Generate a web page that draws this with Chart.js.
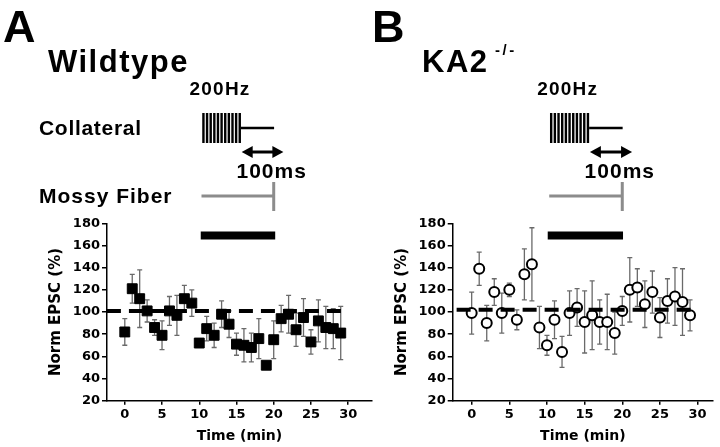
<!DOCTYPE html>
<html>
<head>
<meta charset="utf-8">
<script src="https://cdn.jsdelivr.net/npm/chart.js@4.4.1/dist/chart.umd.min.js"></script>
<style>
  html, body { margin: 0; padding: 0; background: #fff; }
  #wrap { position: relative; width: 720px; height: 447px; overflow: hidden; }
  #cA { position: absolute; left: 0; top: 0; }
  #cB { position: absolute; left: 360px; top: 0; }
</style>
</head>
<body>
<div id="wrap">
  <canvas id="cA" width="380" height="447"></canvas>
  <canvas id="cB" width="360" height="447"></canvas>
</div>
<script>
// time points (min)
const minutes = [0, 1, 2, 3, 4, 5, 6, 7, 8, 9, 10, 11, 12, 13, 14, 15, 16, 17, 18, 19, 20, 21, 22, 23, 24, 25, 26, 27, 28, 29];

// Wildtype, norm EPSC (%) and error
const wtMean = [82, 121, 112, 101, 86, 79, 101, 97, 112, 108, 72, 85, 79, 98, 89, 71, 70, 68, 76, 52, 75, 94, 98, 84, 95, 73, 92, 86, 85, 81];
const wtErr  = [12, 13, 26, 10, 7, 13, 13, 18, 12, 12, 3, 11, 11, 12, 12, 10, 15, 13, 18, 3, 17, 12, 17, 15, 17, 11, 19, 19, 18, 24];

// KA2 -/-, norm EPSC (%) and error
const koMean = [99, 139, 90, 118, 99, 120, 93, 134, 143, 86, 70, 93, 64, 99, 104, 91, 97, 91, 91, 81, 101, 120, 122, 107, 118, 95, 110, 114, 109, 97];
const koErr  = [19, 15, 16, 12, 18, 6, 9, 23, 33, 19, 9, 17, 14, 20, 17, 28, 31, 20, 25, 19, 13, 29, 17, 21, 19, 18, 20, 26, 30, 14];

// dashed baseline and stimulation bar
const wtBaseX = [-2.4, 29.2];
const wtBaseY = [101, 101];
const koBaseX = [-2.0, 29.3];
const koBaseY = [102, 102];
const wtStimX = [10.2, 20.2];
const koStimX = [10.1, 20.1];
const stimY = [169, 169];

const xTicks = [0, 5, 10, 15, 20, 25, 30];
const yTicks = [20, 40, 60, 80, 100, 120, 140, 160, 180];

const toXY = (xs, ys) => xs.map((v, i) => ({ x: v, y: ys[i] }));

// error bars, drawn under the markers
const errorBars = {
  id: 'errorBars',
  beforeDatasetsDraw(chart, args, opts) {
    const { ctx, scales: { x, y } } = chart;
    ctx.save();
    ctx.strokeStyle = '#6a6a6a';
    ctx.lineWidth = 1.3;
    opts.mean.forEach((m, i) => {
      const px = x.getPixelForValue(minutes[i]);
      const top = y.getPixelForValue(m + opts.err[i]);
      const bot = y.getPixelForValue(m - opts.err[i]);
      ctx.beginPath();
      ctx.moveTo(px, top); ctx.lineTo(px, bot);
      ctx.moveTo(px - 2.5, top); ctx.lineTo(px + 2.5, top);
      ctx.moveTo(px - 2.5, bot); ctx.lineTo(px + 2.5, bot);
      ctx.stroke();
    });
    ctx.restore();
  }
};

function label(ctx, str, x, y, size, spacing) {
  ctx.font = 'bold ' + size + 'px "Liberation Sans", Arial, sans-serif';
  ctx.letterSpacing = spacing + 'px';
  ctx.fillText(str, x, y);
}

function arrowHead(ctx, tipX, y, dir) {
  ctx.beginPath();
  ctx.moveTo(tipX, y);
  ctx.lineTo(tipX - dir * 11, y - 6);
  ctx.lineTo(tipX - dir * 11, y + 6);
  ctx.closePath();
  ctx.fill();
}

// panel letter, genotype and stimulation protocol sketch
const header = {
  id: 'header',
  afterDraw(chart, args, o) {
    const ctx = chart.ctx;
    const px = v => chart.scales.x.getPixelForValue(v);
    ctx.save();
    ctx.fillStyle = '#000';
    ctx.strokeStyle = '#000';
    ctx.textBaseline = 'alphabetic';

    label(ctx, o.letter, o.letterX, 42, 45, 0);
    label(ctx, o.title, o.titleX, 72, 31, 1.5);
    if (o.sup) label(ctx, o.sup, o.supX, 55, 15, 2.5);
    if (o.rows) {
      label(ctx, 'Collateral', 39, 135, 21, 0.7);
      label(ctx, 'Mossy Fiber', 39, 203, 21, 1);
    }
    label(ctx, '200Hz', px(8.7), 95, 19, 1.2);
    label(ctx, '100ms', px(15), 178, 21, 1);

    // 200 Hz train
    const t0 = px(10.4), t1 = px(15.6), n = 11, bw = 2.4;
    const step = (t1 - t0 - bw) / (n - 1);
    for (let i = 0; i < n; i++) ctx.fillRect(t0 + i * step, 113, bw, 30);
    ctx.lineWidth = 2.5;
    ctx.beginPath();
    ctx.moveTo(t1, 128); ctx.lineTo(px(20.05), 128);
    ctx.stroke();

    // 100 ms arrow
    const a0 = px(15.7), a1 = px(21.3);
    ctx.lineWidth = 3;
    ctx.beginPath();
    ctx.moveTo(a0 + 8, 152); ctx.lineTo(a1 - 8, 152);
    ctx.stroke();
    arrowHead(ctx, a0, 152, -1);
    arrowHead(ctx, a1, 152, 1);

    // mossy fiber pulse
    ctx.strokeStyle = '#8c8c8c';
    ctx.lineWidth = 3;
    ctx.beginPath();
    ctx.moveTo(px(10.3), 196); ctx.lineTo(px(20), 196);
    ctx.moveTo(px(20), 182); ctx.lineTo(px(20), 211);
    ctx.stroke();
    ctx.restore();
  }
};

const axisFont = { family: '"DejaVu Sans", sans-serif', weight: 'bold', size: 13 };
const titleFont = { family: '"DejaVu Sans", sans-serif', weight: 'bold', size: 14 };
const yTitleFont = { family: '"DejaVu Sans", sans-serif', weight: 'bold', size: 15 };

function makeChart(id, cfg) {
  const datasets = [
    {
      data: toXY(minutes, cfg.mean),
      pointStyle: cfg.pointStyle,
      pointRadius: cfg.radius,
      pointBorderWidth: cfg.pointBorder,
      pointBackgroundColor: cfg.fill,
      pointBorderColor: '#000',
      showLine: false,
      order: cfg.pointOrder
    },
    {
      data: toXY(cfg.baseX, cfg.baseY),
      showLine: true,
      borderColor: '#000',
      borderWidth: 4,
      borderDash: [14, 8],
      borderCapStyle: 'butt',
      pointRadius: 0,
      order: cfg.lineOrder
    },
    {
      data: toXY(cfg.stimX, stimY),
      showLine: true,
      borderColor: '#000',
      borderWidth: 8,
      borderCapStyle: 'butt',
      pointRadius: 0,
      order: 1
    }
  ];

  return new Chart(document.getElementById(id), {
    type: 'scatter',
    data: { datasets },
    plugins: [errorBars, header],
    options: {
      responsive: false,
      animation: false,
      devicePixelRatio: 1,
      layout: { padding: { left: cfg.padLeft, right: cfg.padRight, top: 223.3, bottom: 0 } },
      plugins: {
        legend: { display: false },
        tooltip: { enabled: false },
        errorBars: { mean: cfg.mean, err: cfg.err },
        header: cfg.header
      },
      scales: {
        x: {
          type: 'linear',
          min: cfg.xMin,
          max: cfg.xMax,
          afterBuildTicks: s => { s.ticks = xTicks.map(v => ({ value: v })); },
          afterFit: s => { s.height = 46.3; },
          grid: { display: true, drawOnChartArea: false, drawTicks: true, tickLength: 4, color: '#000', lineWidth: 1.5 },
          border: { display: true, color: '#000', width: 1.5 },
          ticks: { font: axisFont, color: '#000', padding: 2, maxRotation: 0 },
          title: { display: true, text: 'Time (min)', font: titleFont, color: '#000', padding: { top: 0, bottom: 2.6 } }
        },
        y: {
          type: 'linear',
          min: 20,
          max: 180,
          afterBuildTicks: s => { s.ticks = yTicks.map(v => ({ value: v })); },
          afterFit: s => { s.width = cfg.yWidth; },
          grid: { display: true, drawOnChartArea: false, drawTicks: true, tickLength: 5, color: '#000', lineWidth: 1.5 },
          border: { display: true, color: '#000', width: 1.5 },
          ticks: { font: axisFont, color: '#000', padding: 2 },
          title: { display: true, text: 'Norm EPSC (%)', font: yTitleFont, color: '#000', padding: { top: 3.4, bottom: 0 } }
        }
      }
    }
  });
}

makeChart('cA', {
  mean: wtMean, err: wtErr,
  pointStyle: 'rect', radius: 7, pointBorder: 1, fill: '#000', pointOrder: 0, lineOrder: 1,
  baseX: wtBaseX, baseY: wtBaseY, stimX: wtStimX,
  padLeft: 44, padRight: 5, yWidth: 63, xMin: -2.39, xMax: 33.2,
  header: { letter: 'A', letterX: 3, title: 'Wildtype', titleX: 48, rows: true }
});

makeChart('cB', {
  mean: koMean, err: koErr,
  pointStyle: 'circle', radius: 5, pointBorder: 2, fill: '#fff', pointOrder: 1, lineOrder: 0,
  baseX: koBaseX, baseY: koBaseY, stimX: koStimX,
  padLeft: 30, padRight: 7, yWidth: 62.7, xMin: -2.52, xMax: 32.05,
  header: { letter: 'B', letterX: 12, title: 'KA2', titleX: 62, sup: '-/-', supX: 135, rows: false }
});
</script>
</body>
</html>
